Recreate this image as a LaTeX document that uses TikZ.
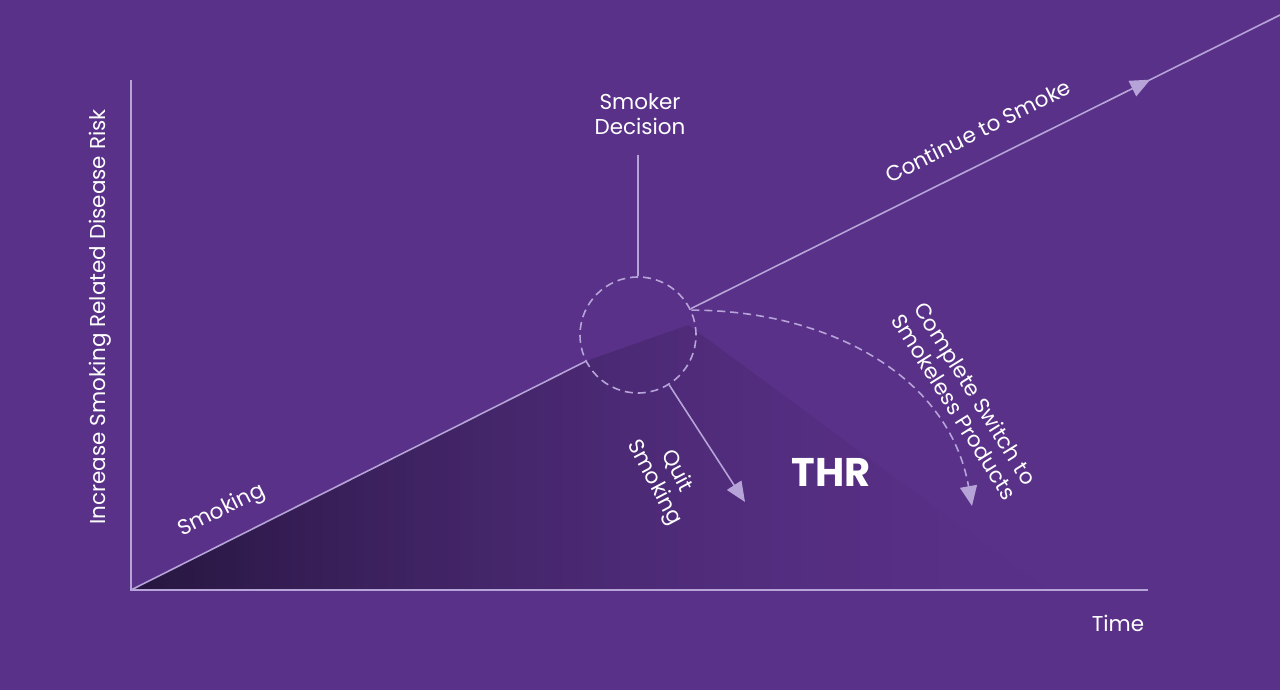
\documentclass[tikz,border=0pt]{standalone}
\usepackage{fontspec}
\setmainfont{Poppins}
\usetikzlibrary{arrows.meta,decorations.markings,fadings}
\definecolor{bg}{HTML}{5A3189}
\definecolor{ln}{HTML}{B6A3D8}
\definecolor{dk}{HTML}{26163F}
\tikzset{
  axis/.style={ln, line width=1.6pt},
  lbl/.style={text=white, font=\fontsize{21.5}{25}\selectfont, align=center, inner sep=0pt},
  tip/.style={-{Triangle[length=20pt,width=17pt]}, ln, line width=1.6pt}
}
\begin{document}
\begin{tikzpicture}[x=1pt,y=-1pt]
\fill[bg] (0,0) rectangle (1280,690);
\useasboundingbox (0,0) rectangle (1280,690);
% shaded area
\shade[left color=dk, right color=bg!80!dk, path fading=east] (131,590) -- (585,362) -- (690,325) -- (1050,590) -- cycle;
\coordinate (o) at (131,590);
\coordinate (ytop) at (131,80);
\coordinate (xend) at (1148,590);
\coordinate (cend) at (1280,15);
\coordinate (qend) at (745,502);
\coordinate (send) at (972,506);
\coordinate (vtop) at (638,155);
\node[draw=ln, dashed, dash pattern=on 8pt off 5pt, line width=1.6pt, circle, minimum size=116pt, inner sep=0pt] (dec) at (638,335) {};
\draw[axis] (ytop) -- (o) -- (xend);
\draw[axis] (o) -- (dec);
\draw[axis, postaction={decorate}, decoration={markings, mark=at position 0.78 with {\arrow{Triangle[length=20pt,width=17pt]}}}] (dec) -- (cend);
\draw[axis] (vtop) -- (dec.north);
\draw[tip] (dec.-58) -- (qend);
\draw[tip, dashed, dash pattern=on 8pt off 5pt] (dec.25) to[out=0, in=100] (send);
% labels
\node[lbl] (sd) at (640,114) {Smoker\\Decision};
\node[lbl, rotate=90] (yl) at (100,317) {Increase Smoking Related Disease Risk};
\node[lbl] (tl) at (1118,623) {Time};
\node[lbl, rotate=26.6] (sm) at (222,511) {Smoking};
\node[lbl, rotate=26.6] (cs) at (978,131) {Continue to Smoke};
\node[lbl, rotate=-62] (qs) at (665,477) {Quit\\Smoking};
\node[lbl, rotate=-58] (cp) at (965,400) {Complete Switch to\\Smokeless Products};
\node[text=white, font=\fontsize{40}{44}\selectfont\bfseries, inner sep=0pt] (thr) at (831,472) {THR};
\end{tikzpicture}
\end{document}
